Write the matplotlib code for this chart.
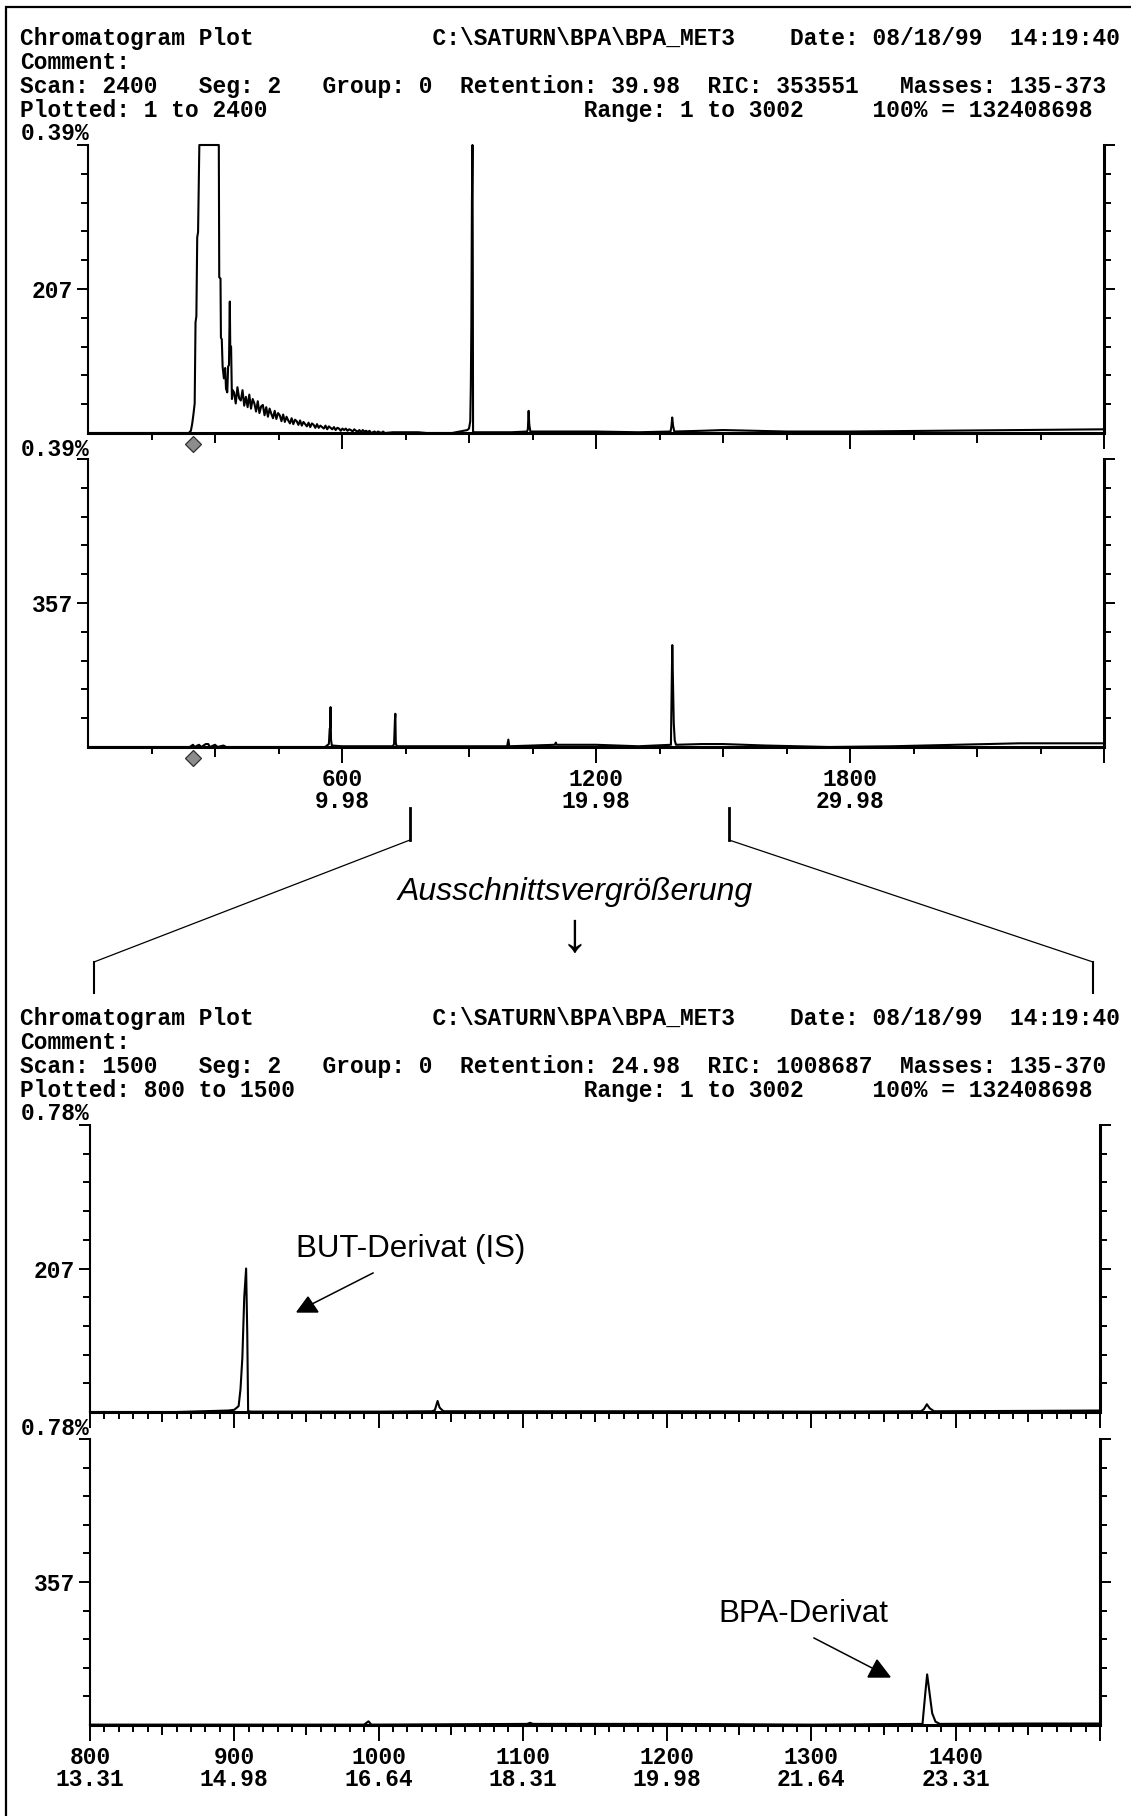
import numpy as np
import matplotlib
matplotlib.use("Agg")
import matplotlib.pyplot as plt

W, H = 1131, 1816          # page size in pixels, saved at dpi 100
MONO = "Liberation Mono"
SANS = ["Liberation Sans", "DejaVu Sans"]
FS = 16.5                  # printer font size

# run parameters
base_counts = 132408698
overview_range = (0, 2400)
zoom_range = (800, 1500)
overview_scale = 0.39      # full scale in % of base counts
zoom_scale = 0.78
start_marker_scan = 247

overview_info = dict(scan=2400, retention="39.98", ric=353551, masses="135-373", plotted=(1, 2400))
zoom_info = dict(scan=1500, retention="24.98", ric=1008687, masses="135-370", plotted=(800, 1500))

# ion trace m/z 207, intensity in % of base counts
mz207_head_scan = [1, 238, 243, 246, 249, 252, 254, 256, 258, 260, 263, 275, 290, 305,
                   309, 310, 313, 314, 316, 318, 321, 324, 326, 329, 331, 333, 335, 336,
                   338, 340, 342]
mz207_head_pct = [0.000, 0.000, 0.003, 0.012, 0.025, 0.040, 0.150, 0.158, 0.265, 0.272,
                  0.400, 0.520, 0.560, 0.470, 0.400, 0.211, 0.209, 0.129, 0.127, 0.090,
                  0.074, 0.088, 0.060, 0.055, 0.090, 0.092, 0.178, 0.118, 0.117, 0.046,
                  0.058]
# solvent tail, every 4th scan from 345 to 701
mz207_tail_scan = np.arange(345, 702, 4)
mz207_tail_pct = [
    0.055, 0.040, 0.062, 0.047, 0.044, 0.058, 0.037, 0.049, 0.035, 0.052,
    0.033, 0.046, 0.040, 0.029, 0.043, 0.027, 0.036, 0.038, 0.024, 0.035,
    0.022, 0.033, 0.026, 0.020, 0.030, 0.019, 0.027, 0.024, 0.016, 0.025,
    0.015, 0.022, 0.017, 0.013, 0.020, 0.012, 0.018, 0.016, 0.011, 0.017,
    0.010, 0.015, 0.012, 0.009, 0.014, 0.008, 0.013, 0.011, 0.007, 0.012,
    0.007, 0.010, 0.008, 0.006, 0.010, 0.005, 0.009, 0.007, 0.005, 0.008,
    0.004, 0.007, 0.006, 0.003, 0.006, 0.004, 0.006, 0.003, 0.005, 0.004,
    0.002, 0.005, 0.003, 0.002, 0.004, 0.001, 0.004, 0.002, 0.003, 0.001,
    0.003, 0.000, 0.001, 0.002, 0.000, 0.002, 0.001, 0.000, 0.002, 0.000]
mz207_rest_scan = [720, 780, 800, 860, 896, 900, 903, 904.3, 905.6, 906.9, 908.2, 909.0,
                   909.6, 912, 1000, 1037, 1039, 1040.9, 1042.2, 1043, 1045, 1100, 1200,
                   1300, 1376, 1378, 1380, 1382, 1385, 1450, 1500, 1650, 1800, 2000,
                   2200, 2400]
mz207_rest_pct = [0.001, 0.001, 0.000, 0.000, 0.004, 0.006, 0.016, 0.062, 0.148, 0.312,
                  0.390, 0.211, 0.002, 0.001, 0.001, 0.002, 0.005, 0.030, 0.013, 0.009,
                  0.002, 0.002, 0.002, 0.001, 0.002, 0.008, 0.021, 0.010, 0.002, 0.003,
                  0.004, 0.002, 0.002, 0.003, 0.004, 0.005]

# ion trace m/z 357 (BPA derivative)
mz357_scan = [1, 240, 248, 252, 262, 268, 278, 284, 288, 300, 306, 320, 326, 560, 569,
              571, 572, 573, 574, 576, 600, 720, 723, 725, 726, 727, 729, 800, 990, 993,
              995, 1050, 1103, 1105, 1107, 1200, 1300, 1377, 1377.6, 1379, 1380.2,
              1381.3, 1382.5, 1383.7, 1386, 1389, 1450, 1500, 1600, 1750, 1900, 2050,
              2200, 2400]
mz357_pct = [0.000, 0.000, 0.003, 0.000, 0.003, 0.000, 0.004, 0.004, 0.000, 0.003,
             0.000, 0.002, 0.000, 0.000, 0.004, 0.025, 0.026, 0.054, 0.010, 0.002,
             0.001, 0.001, 0.004, 0.036, 0.045, 0.006, 0.001, 0.001, 0.001, 0.010,
             0.001, 0.002, 0.003, 0.006, 0.003, 0.003, 0.001, 0.003, 0.030, 0.090,
             0.138, 0.105, 0.068, 0.032, 0.009, 0.003, 0.004, 0.004, 0.002, 0.000,
             0.001, 0.003, 0.005, 0.005]

# scan / retention time labels
overview_label_scans = [600, 1200, 1800]
overview_label_times = ["9.98", "19.98", "29.98"]
zoom_label_scans = [800, 900, 1000, 1100, 1200, 1300, 1400]
zoom_label_times = ["13.31", "14.98", "16.64", "18.31", "19.98", "21.64", "23.31"]

mz207_scan = np.concatenate([mz207_head_scan, mz207_tail_scan, mz207_rest_scan]).astype(float)
mz207_pct = np.concatenate([mz207_head_pct, mz207_tail_pct, mz207_rest_pct])
mz357_scan = np.array(mz357_scan, dtype=float)
mz357_pct = np.array(mz357_pct)


def header_lines(info, scale):
    # fixed 80 column printer layout
    return [
        "Chromatogram Plot".ljust(30) + r"C:\SATURN\BPA\BPA_MET3".ljust(26)
        + "Date: 08/18/99".ljust(16) + "14:19:40",
        "Comment:",
        f"Scan: {info['scan']}".ljust(13) + "Seg: 2".ljust(9) + "Group: 0".ljust(10)
        + f"Retention: {info['retention']}".ljust(18) + f"RIC: {info['ric']}".ljust(14)
        + f"Masses: {info['masses']}",
        f"Plotted: {info['plotted'][0]} to {info['plotted'][1]}".ljust(41)
        + "Range: 1 to 3002".ljust(21) + f"100% = {base_counts}",
        f"{scale}%",
    ]


fig = plt.figure(figsize=(W / 100, H / 100), dpi=100, facecolor="white")


def panel(box, scans, pct, xr, top, mass, ticks, mid, major, labels=None, marker=None):
    left, ytop, right, ybot = box
    w_px, h_px = right - left, ybot - ytop
    ax = fig.add_axes([left / W, 1 - ybot / H, w_px / W, h_px / H])
    sel = (scans >= xr[0]) & (scans <= xr[1])
    ax.plot(scans[sel], np.minimum(pct[sel], top), color="black", lw=1.5, clip_on=False)
    ax.set_xlim(*xr)
    ax.set_ylim(0, top)

    ax.spines["top"].set_visible(False)
    ax.spines["left"].set_linewidth(1.5)
    ax.spines["right"].set_linewidth(2.2)
    ax.spines["bottom"].set_linewidth(2.2)

    # y divisions in tenths of full scale, mass label at half scale
    ax.set_yticks([0.5 * top, top], labels=[mass, ""])
    ax.set_yticks(np.array([0.1, 0.2, 0.3, 0.4, 0.6, 0.7, 0.8, 0.9]) * top, minor=True)
    ax.tick_params(axis="y", which="both", direction="out", left=True, right=True,
                   width=1.4, pad=3, labelsize=FS)
    ax.tick_params(axis="y", which="major", length=8)
    ax.tick_params(axis="y", which="minor", length=5)
    for lab in ax.get_yticklabels():
        lab.set_fontfamily(MONO)
        lab.set_fontweight("bold")

    # scan ticks, three lengths
    ax.set_xticks([])
    ticks = np.asarray(ticks)
    lengths = np.where(ticks % major == 0, 16, np.where(ticks % mid == 0, 10, 7))
    ax.vlines(ticks, 0, -lengths / h_px, transform=ax.get_xaxis_transform(),
              colors="black", lw=1.4, clip_on=False)

    if labels:
        for s, t in zip(*labels):
            for txt, dy in ((str(s), 32), (t, 55)):
                ax.text(s, -dy / h_px, txt, transform=ax.get_xaxis_transform(),
                        ha="center", va="center", fontsize=FS, family=MONO,
                        weight="bold")
    if marker is not None:
        ax.plot([marker], [-11 / h_px], transform=ax.get_xaxis_transform(), marker="D",
                ms=8, mfc="#8c8c8c", mec="#303030", mew=0.9, clip_on=False)
    return ax


ov_ticks = np.arange(150, 2401, 150)
zm_ticks = np.arange(800, 1501, 10)

panel((88, 145, 1104, 433), mz207_scan, mz207_pct, overview_range, overview_scale, "207",
      ov_ticks, 300, 600, marker=start_marker_scan)
panel((88, 459, 1104, 747), mz357_scan, mz357_pct, overview_range, overview_scale, "357",
      ov_ticks, 300, 600, labels=(overview_label_scans, overview_label_times),
      marker=start_marker_scan)
panel((90, 1125, 1100, 1412), mz207_scan, mz207_pct, zoom_range, zoom_scale, "207",
      zm_ticks, 50, 100)
panel((90, 1439, 1100, 1725), mz357_scan, mz357_pct, zoom_range, zoom_scale, "357",
      zm_ticks, 50, 100, labels=(zoom_label_scans, zoom_label_times))

# page overlay in pixel coordinates: headers, frame, zoom bracket, notes
ov = fig.add_axes([0, 0, 1, 1])
ov.set_xlim(0, W)
ov.set_ylim(H, 0)
ov.axis("off")
ov.set_zorder(10)

for lines, y0 in ((header_lines(overview_info, overview_scale), 45.5),
                  (header_lines(zoom_info, zoom_scale), 1025.5)):
    for i, line in enumerate(lines):
        ov.text(20.5, y0 + i * 23.75, line, ha="left", va="baseline", fontsize=FS,
                family=MONO, weight="bold")
ov.text(20.5, 455.5, f"{overview_scale}%", ha="left", va="baseline", fontsize=FS,
        family=MONO, weight="bold")
ov.text(20.5, 1435, f"{zoom_scale}%", ha="left", va="baseline", fontsize=FS,
        family=MONO, weight="bold")

# page frame
ov.plot([6, 6, W], [H, 7, 7], color="black", lw=1.6, solid_joinstyle="miter")

# bracket from the overview down to the enlarged section
for xt, xb in ((410, 94), (729, 1093)):
    ov.plot([xt, xt], [808, 840], color="black", lw=2.0)
    ov.plot([xt, xb], [840, 962], color="black", lw=0.9)
    ov.plot([xb, xb], [962, 993], color="black", lw=1.5)
ov.text(575, 900, "Ausschnittsvergrößerung", ha="center", va="baseline", fontsize=23,
        family=SANS, style="italic")
ov.text(574, 937, "↓", ha="center", va="center", fontsize=40, family=SANS)

# peak notes
ov.text(296, 1257, "BUT-Derivat (IS)", ha="left", va="baseline", fontsize=22.5, family=SANS)
ov.plot([373, 312], [1273, 1304], color="black", lw=1.1)
ov.fill([297, 318, 308], [1312, 1312, 1297], color="black")

ov.text(718, 1622, "BPA-Derivat", ha="left", va="baseline", fontsize=22.5, family=SANS)
ov.plot([814, 874], [1638, 1669], color="black", lw=1.1)
ov.fill([868, 890, 877], [1677, 1677, 1660], color="black")

fig.savefig("out.png", dpi=100, facecolor="white")
